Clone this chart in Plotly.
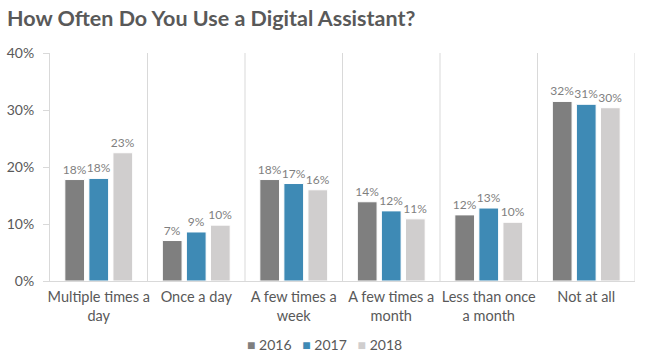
import plotly.graph_objects as go

categories = ["Multiple times a<br>day", "Once a day", "A few times a<br>week",
              "A few times a<br>month", "Less than once<br>a month", "Not at all"]
years = ["2016", "2017", "2018"]
v2016 = [17.8, 7.1, 17.8, 13.9, 11.6, 31.5]
v2017 = [18.0, 8.6, 17.1, 12.3, 12.8, 31.0]
v2018 = [22.5, 9.8, 16.0, 10.9, 10.3, 30.4]
labels2016 = ["18%", "7%", "18%", "14%", "12%", "32%"]
labels2017 = ["18%", "9%", "17%", "12%", "13%", "31%"]
labels2018 = ["23%", "10%", "16%", "11%", "10%", "30%"]
ytickvals = [0, 10, 20, 30, 40]
yticktext = ["0%", "10%", "20%", "30%", "40%"]

colors = ["#7f7f7f", "#3e8ab5", "#d0cece"]
FONT = "Lato, sans-serif"
TXT = "#595959"

fig = go.Figure()
xs = list(range(len(categories)))
for name, vals, labs, col in zip(years, [v2016, v2017, v2018],
                                 [labels2016, labels2017, labels2018], colors):
    fig.add_trace(go.Bar(
        x=xs, y=vals, name=name, text=labs, textposition="outside",
        constraintext="none",
        textfont=dict(color="#7f7f7f", size=12, family=FONT),
        cliponaxis=False, showlegend=False,
        marker=dict(color=col, line=dict(color="white", width=1)),
        hoverinfo="skip",
    ))

shapes = []
for i in range(len(categories)):
    shapes.append(dict(type="line", xref="x", yref="y", x0=i + 0.5, x1=i + 0.5,
                       y0=0, y1=40, line=dict(color="#d9d9d9", width=1)))

# legend built as text with coloured squares
legend_text = "&nbsp;&nbsp;&nbsp;".join(
    f"<span style='color:{c}'>■</span>&nbsp;{y}" for y, c in zip(years, colors))

fig.update_layout(
    width=645, height=359,
    margin=dict(l=50, r=10, t=53, b=78),
    paper_bgcolor="white", plot_bgcolor="white",
    title=dict(text="<b>How Often Do You Use a Digital Assistant?</b>",
               x=0.0, xanchor="left", y=0.948, yanchor="middle",
               pad=dict(l=7, t=0, b=0, r=0),
               font=dict(family="Lato, sans-serif", size=21.5, color=TXT)),
    barmode="group", bargap=0.26, bargroupgap=0.18,
    shapes=shapes,
    annotations=[dict(text=legend_text, xref="paper", yref="paper",
                      x=0.47, y=-0.28, xanchor="center", yanchor="middle",
                      showarrow=False,
                      font=dict(family=FONT, size=14, color=TXT))],
    font=dict(family=FONT, color=TXT),
)
fig.update_xaxes(tickvals=xs, ticktext=categories, range=[-0.5, 5.5],
                 showline=True, linecolor="#d9d9d9", linewidth=1,
                 showgrid=False, zeroline=False, ticks="", automargin=False,
                 ticklabelstandoff=3,
                 tickfont=dict(family=FONT, size=14.5, color=TXT))
fig.update_yaxes(range=[0, 40], tickvals=ytickvals, ticktext=yticktext,
                 showline=True, linecolor="#d9d9d9", linewidth=1,
                 ticks="outside", ticklen=6, tickcolor="#d9d9d9",
                 ticklabelstandoff=6, automargin=False,
                 showgrid=False, zeroline=False,
                 tickfont=dict(family=FONT, size=14, color=TXT))

fig.write_html("out.html", config={"displayModeBar": False},
               post_script="document.body.style.margin='0';document.body.style.overflow='hidden';")
